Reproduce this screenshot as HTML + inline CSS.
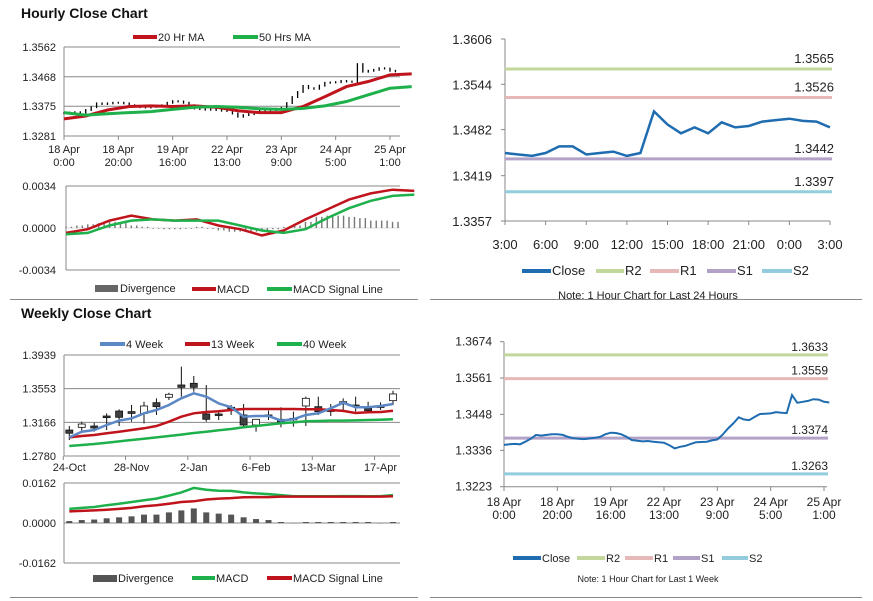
<!DOCTYPE html>
<html><head><meta charset="utf-8"><style>
html,body{margin:0;padding:0;background:#fff;}
svg{display:block;font-family:"Liberation Sans",Arial,sans-serif;}
</style></head><body>
<svg id="c" width="873" height="601" viewBox="0 0 873 601">
<text x="21" y="18" font-size="14" font-weight="bold" fill="#111">Hourly Close Chart</text>
<text x="21" y="318" font-size="14" font-weight="bold" fill="#111">Weekly Close Chart</text>
<line x1="10" y1="299.5" x2="418" y2="299.5" stroke="#888"/>
<line x1="430" y1="299.5" x2="862" y2="299.5" stroke="#888"/>
<line x1="10" y1="597.5" x2="418" y2="597.5" stroke="#888"/>
<line x1="430" y1="597.5" x2="862" y2="597.5" stroke="#888"/>
</svg>
<script>
// ---- data ----
const hourlyCloses=[1.3353,1.3355,1.3356,1.3355,1.3363,1.3372,1.3384,1.3382,1.3384,1.3386,
1.3386,1.3384,1.3378,1.3374,1.3372,1.3371,1.3373,1.3375,1.3378,1.3386,
1.3391,1.3390,1.3386,1.3378,1.3368,1.3366,1.3364,1.3365,1.3363,1.3361,
1.3360,1.3352,1.3342,1.3347,1.3350,1.3356,1.3361,1.3362,1.3363,1.3367,
1.3370,1.3385,1.3404,1.3420,1.3439,1.3432,1.3430,1.3440,1.3449,1.3450,
1.3451,1.3455,1.3453,1.3452,1.3508,1.3484,1.3487,1.3490,1.3495,1.3494,
1.3487,1.3485];
const hourlyMA20=[1.3335,1.3344,1.3363,1.3374,1.3376,1.3374,1.3376,1.3372,1.3361,1.3355,1.3355,1.3374,1.3405,1.3437,1.3453,1.3474,1.3477];
const hourlyMA50=[1.3355,1.3347,1.3351,1.3355,1.3358,1.3365,1.3372,1.3374,1.3372,1.3367,1.3365,1.3368,1.3376,1.3390,1.3411,1.3432,1.3437];
const hourlyMACD=[-0.0004,-0.0001,0.0006,0.0010,0.0007,0.0006,0.0007,0.0002,-0.0001,-0.0006,-0.0002,0.0007,0.0015,0.0023,0.0028,0.0031,0.0030];
const hourlySignal=[-0.0005,-0.0004,0.0002,0.0006,0.0007,0.0006,0.0006,0.0006,0.0002,-0.0002,-0.0004,-0.0001,0.0008,0.0016,0.0022,0.0026,0.0027];
const hourlyDiv=[0.0001,0.0002,0.0003,0.0004,0.0005,0.0004,0.0002,0.0001,0.0000,-0.0001,-0.0001,0.0000,0.0001,0.0000,-0.0002,-0.0003,-0.0003,-0.0003,-0.0002,-0.0001,0.0001,0.0002,0.0005,0.0009,0.0010,0.0010,0.0009,0.0008,0.0006,0.0006,0.0005];
const hourlyTickHours=[0,20,40,60,80,100,120];
const hourlyTickLabels=[["18 Apr","0:00"],["18 Apr","20:00"],["19 Apr","16:00"],["22 Apr","13:00"],["23 Apr","9:00"],["24 Apr","5:00"],["25 Apr","1:00"]];
const hourlyPriceTicks=[1.3562,1.3468,1.3375,1.3281];
const hourlyMacdTicks=[0.0034,0.0000,-0.0034];

const dayCloses=[1.3450,1.3448,1.3446,1.3450,1.3459,1.3459,1.3448,1.3450,1.3452,1.3446,1.3450,1.3507,1.3489,1.3477,1.3485,1.3477,1.3492,1.3485,1.3487,1.3493,1.3495,1.3497,1.3494,1.3493,1.3485];
const dayTickLabels=["3:00","6:00","9:00","12:00","15:00","18:00","21:00","0:00","3:00"];
const dayPriceTicks=[1.3606,1.3544,1.3482,1.3419,1.3357];
const dayLevels=[1.3565,1.3526,1.3442,1.3397];
const weekLevels=[1.3633,1.3559,1.3374,1.3263];
const weekHourTicks=[1.3674,1.3561,1.3448,1.3336,1.3223];

const wOpen=[1.3078,1.3109,1.3124,1.3239,1.3296,1.3289,1.3269,1.3392,1.3454,1.3595,1.3614,1.3262,1.3262,1.3339,1.3251,1.3136,1.3251,1.3201,1.3212,1.3354,1.3346,1.3308,1.3377,1.3365,1.3327,1.3354,1.3415];
const wClose=[1.3041,1.3147,1.3101,1.3220,1.3224,1.3269,1.3354,1.3346,1.3488,1.3568,1.3568,1.3201,1.3247,1.3327,1.3136,1.3201,1.3243,1.3170,1.3205,1.3442,1.3289,1.3296,1.3403,1.3354,1.3300,1.3346,1.3492];
const wHigh=[1.3124,1.3174,1.3162,1.3269,1.3316,1.3365,1.3403,1.3442,1.3506,1.3805,1.3698,1.3595,1.3308,1.3365,1.3377,1.3205,1.3300,1.3339,1.3289,1.3461,1.3461,1.3377,1.3442,1.3461,1.3403,1.3396,1.3529];
const wLow=[1.2964,1.3059,1.3059,1.3078,1.3124,1.3174,1.3154,1.3251,1.3423,1.3461,1.3518,1.3174,1.3193,1.3251,1.3124,1.3059,1.3193,1.3109,1.3116,1.3124,1.3251,1.3239,1.3308,1.3289,1.3289,1.3308,1.3365];
const w4=[1.2994,1.3059,1.3078,1.3136,1.3186,1.3212,1.3270,1.3308,1.3365,1.3442,1.3499,1.3461,1.3384,1.3339,1.3231,1.3239,1.3239,1.3186,1.3201,1.3251,1.3270,1.3327,1.3392,1.3339,1.3339,1.3354,1.3377];
const w13=[1.2994,1.3010,1.3021,1.3040,1.3059,1.3078,1.3098,1.3124,1.3174,1.3231,1.3270,1.3285,1.3293,1.3308,1.3319,1.3319,1.3319,1.3319,1.3319,1.3316,1.3316,1.3308,1.3297,1.3274,1.3281,1.3285,1.3300];
const w40=[1.2895,1.2906,1.2918,1.2933,1.2948,1.2964,1.2979,1.2994,1.3010,1.3025,1.3044,1.3059,1.3075,1.3090,1.3109,1.3124,1.3140,1.3155,1.3166,1.3178,1.3182,1.3186,1.3186,1.3189,1.3193,1.3197,1.3201];
const wMACD=[0.0057,0.0061,0.0065,0.0072,0.0078,0.0085,0.0092,0.0099,0.0111,0.0124,0.0142,0.0135,0.0131,0.0130,0.0124,0.0120,0.0117,0.0113,0.0108,0.0108,0.0108,0.0108,0.0109,0.0109,0.0108,0.0109,0.0113];
const wSignal=[0.0047,0.0049,0.0051,0.0054,0.0057,0.0061,0.0068,0.0072,0.0078,0.0085,0.0088,0.0095,0.0099,0.0101,0.0104,0.0105,0.0105,0.0107,0.0107,0.0107,0.0107,0.0107,0.0107,0.0107,0.0107,0.0107,0.0108];
const wDiv=[0.0008,0.0012,0.0014,0.0019,0.0023,0.0027,0.0034,0.0034,0.0043,0.0051,0.0059,0.0043,0.0038,0.0034,0.0023,0.0016,0.0012,0.0004,-0.0001,0.0004,0.0004,0.0004,0.0004,0.0004,0.0004,-0.0001,0.0004];
const weekTickIdx=[0,5,10,15,20,25];
const weekTickLabels=["24-Oct","28-Nov","2-Jan","6-Feb","13-Mar","17-Apr"];
const weekPriceTicks=[1.3939,1.3553,1.3166,1.2780];
const weekMacdTicks=[0.0162,0.0000,-0.0162];

// ---- helpers ----
const svg=document.getElementById('c');
const NS='http://www.w3.org/2000/svg';
function el(tag,a){const e=document.createElementNS(NS,tag);for(const k in a)e.setAttribute(k,a[k]);svg.appendChild(e);return e;}
function lin(d0,d1,r0,r1){return v=>r0+(v-d0)/(d1-d0)*(r1-r0);}
function pathOf(vals,fx,fy){return vals.map((v,i)=>(i?'L':'M')+fx(i).toFixed(1)+','+fy(v).toFixed(1)).join(' ');}
function txt(x,y,s,size,anchor,name){const t=el('text',{x:x,y:y,'font-size':size,'text-anchor':anchor||'start',fill:'#222'});t.textContent=s;


return t;}
function legendLine(x1,x2,y,color,label,size,name){const l=el('line',{x1:x1,y1:y,x2:x2,y2:y,stroke:color,'stroke-width':4});


txt(x2+1,y+4,label,size,'start',name);}

// ===== Panel 1: hourly price =====
const p1x=lin(0,120,64,390), p1y=lin(1.3562,1.3281,47,136);
hourlyPriceTicks.forEach((v,i)=>{const g=el('line',{x1:64,x2:400,y1:p1y(v),y2:p1y(v),stroke:'#888','stroke-width':1});


txt(56,p1y(v)+4,v.toFixed(4),11,'end','hourly-price-y-label');});
let ax=el('line',{x1:64,x2:64,y1:47,y2:136,stroke:'#888'});


hourlyTickHours.forEach((h,i)=>{const tk=el('line',{x1:p1x(h),x2:p1x(h),y1:136,y2:140,stroke:'#888'});


txt(p1x(h),153,hourlyTickLabels[i][0],11,'middle','hourly-x-label');
txt(p1x(h),166,hourlyTickLabels[i][1],11,'middle','hourly-x-label');});
hourlyCloses.forEach((c,i)=>{const o=i?hourlyCloses[i-1]:c;const hi=Math.max(o,c)+0.0003,lo=Math.min(o,c)-0.0003;
const b=el('line',{x1:p1x(i*2),x2:p1x(i*2),y1:p1y(hi),y2:p1y(lo),stroke:'#000','stroke-width':1.3});

});
const mx=i=>p1x(i*8);
let m20=el('path',{d:pathOf(hourlyMA20,mx,p1y),fill:'none',stroke:'#c0141c','stroke-width':3});


let m50=el('path',{d:pathOf(hourlyMA50,mx,p1y),fill:'none',stroke:'#1db04b','stroke-width':3});


legendLine(133,157,37,'#c0141c','20 Hr MA',11,'legend-ma20');
legendLine(233,258,37,'#1db04b','50 Hrs MA',11,'legend-ma50');

// ===== Panel 2: hourly MACD =====
const p2x=lin(0,122,66,398), p2y=lin(0.0034,-0.0034,186,270);
hourlyMacdTicks.forEach(v=>{const g=el('line',{x1:66,x2:400,y1:p2y(v),y2:p2y(v),stroke:v===0?'#ddd':'#888'});


txt(56,p2y(v)+4,v.toFixed(4),11,'end','hourly-macd-y-label');});
ax=el('line',{x1:66,x2:66,y1:186,y2:270,stroke:'#888'});


hourlyDiv.forEach((v,i)=>{for(let k=0;k<2;k++){const x=p2x(i*4+k*2);
const b=el('rect',{x:x-0.7,y:Math.min(p2y(v),p2y(0)),width:1.4,height:Math.max(0.8,Math.abs(p2y(v)-p2y(0))),fill:'#777'});

}});
const mx2=i=>p2x(i*8);
let hm=el('path',{d:pathOf(hourlyMACD,mx2,p2y),fill:'none',stroke:'#c0141c','stroke-width':2.5});


let hs=el('path',{d:pathOf(hourlySignal,mx2,p2y),fill:'none',stroke:'#1db04b','stroke-width':2.5});


let sw=el('rect',{x:95,y:285,width:23,height:7,fill:'#666'});


txt(120,292,'Divergence',11,'start','legend-divergence');
legendLine(192,216,289,'#c0141c','MACD',11,'legend-macd');
legendLine(267,292,289,'#1db04b','MACD Signal Line',11,'legend-signal');

// ===== Panel 3: last 24 hours =====
const p3x=lin(0,24,505,830), p3y=lin(1.3606,1.3357,39,221);
dayPriceTicks.forEach(v=>{txt(492,p3y(v)+5,v.toFixed(4),13,'end','day-y-label');
const t=el('line',{x1:501,x2:505,y1:p3y(v),y2:p3y(v),stroke:'#888'});

});
ax=el('path',{d:'M505,39 L505,221 L830,221',fill:'none',stroke:'#888'});


dayTickLabels.forEach((s,k)=>{const x=p3x(k*3);const t=el('line',{x1:x,x2:x,y1:221,y2:225,stroke:'#888'});


txt(x,249,s,13,'middle','day-x-label');});
const levelColors=['#c3d69b','#e6b9b8','#b3a2c7','#93cddd'];
dayLevels.forEach((v,k)=>{const l=el('line',{x1:505,x2:832,y1:p3y(v),y2:p3y(v),stroke:levelColors[k],'stroke-width':3});


txt(834,p3y(v)-6,v.toFixed(4),13,'end','day-level-label');});
let dc=el('path',{d:pathOf(dayCloses,p3x,p3y),fill:'none',stroke:'#1f6cb0','stroke-width':2.5});


legendLine(522,551,271,'#1f6cb0','Close',13,'legend-day-close');
legendLine(596,624,271,'#c3d69b','R2',13,'legend-day-r2');
legendLine(650,679,271,'#e6b9b8','R1',13,'legend-day-r1');
legendLine(707,736,271,'#b3a2c7','S1',13,'legend-day-s1');
legendLine(762,792,271,'#93cddd','S2',13,'legend-day-s2');
txt(648,299,'Note: 1 Hour Chart for Last 24 Hours',11,'middle','day-note');

// ===== Panel 4: weekly price =====
const p4x=lin(0,26,69.3,393), p4y=lin(1.3939,1.2780,355,456);
weekPriceTicks.forEach(v=>{const g=el('line',{x1:64,x2:400,y1:p4y(v),y2:p4y(v),stroke:'#888'});


txt(56,p4y(v)+4,v.toFixed(4),11,'end','weekly-price-y-label');});
ax=el('line',{x1:64,x2:64,y1:355,y2:456,stroke:'#888'});


weekTickIdx.forEach((idx,k)=>{const x=p4x(idx);const t=el('line',{x1:x-6,x2:x-6,y1:456,y2:460,stroke:'#888'});


txt(x,471,weekTickLabels[k],11,'middle','weekly-x-label');});
wOpen.forEach((o,i)=>{const c=wClose[i],x=p4x(i);
const w=el('line',{x1:x,x2:x,y1:p4y(wHigh[i]),y2:p4y(wLow[i]),stroke:'#111','stroke-width':1});


const top=p4y(Math.max(o,c)),bot=p4y(Math.min(o,c));
const b=el('rect',{x:x-3.5,y:top,width:7,height:Math.max(1.5,bot-top),fill:c>=o?'#fff':'#404040',stroke:'#111','stroke-width':0.8});

});
let l40=el('path',{d:pathOf(w40,p4x,p4y),fill:'none',stroke:'#1db04b','stroke-width':2.5});


let l13=el('path',{d:pathOf(w13,p4x,p4y),fill:'none',stroke:'#c0141c','stroke-width':2.5});


let l4=el('path',{d:pathOf(w4,p4x,p4y),fill:'none',stroke:'#5b87c4','stroke-width':2.5});


legendLine(100,125,344,'#5b87c4','4 Week',11,'legend-4-week');
legendLine(185,210,344,'#c0141c','13 Week',11,'legend-13-week');
legendLine(277,302,344,'#1db04b','40 Week',11,'legend-40-week');

// ===== Panel 5: weekly MACD =====
const p5y=lin(0.0162,-0.0162,483,563);
weekMacdTicks.forEach(v=>{const g=el('line',{x1:64,x2:400,y1:p5y(v),y2:p5y(v),stroke:'#888'});


txt(56,p5y(v)+4,v.toFixed(4),11,'end','weekly-macd-y-label');});
ax=el('line',{x1:64,x2:64,y1:483,y2:563,stroke:'#888'});


wDiv.forEach((v,i)=>{const x=p4x(i);const b=el('rect',{x:x-3,y:Math.min(p5y(v),p5y(0)),width:6,height:Math.abs(p5y(v)-p5y(0)),fill:'#555'});

});
let wm=el('path',{d:pathOf(wMACD,p4x,p5y),fill:'none',stroke:'#1db04b','stroke-width':2.5});


let ws=el('path',{d:pathOf(wSignal,p4x,p5y),fill:'none',stroke:'#c0141c','stroke-width':2.5});


sw=el('rect',{x:93,y:575,width:24,height:7,fill:'#555'});


txt(118,582,'Divergence',11,'start','legend-weekly-divergence');
legendLine(192,215,578,'#1db04b','MACD',11,'legend-weekly-macd');
legendLine(267,292,578,'#c0141c','MACD Signal Line',11,'legend-weekly-signal');

// ===== Panel 6: last week hourly =====
const p6x=lin(0,120,504,824), p6y=lin(1.3674,1.3223,341.7,486.7);
weekHourTicks.forEach(v=>{txt(492,p6y(v)+4,v.toFixed(4),12,'end','week-hourly-y-label');
const t=el('line',{x1:500,x2:504,y1:p6y(v),y2:p6y(v),stroke:'#888'});

});
ax=el('path',{d:'M504,341.7 L504,486.7 L827,486.7',fill:'none',stroke:'#888'});


hourlyTickHours.forEach((h,i)=>{const x=p6x(h);const t=el('line',{x1:x,x2:x,y1:486.7,y2:491,stroke:'#888'});


txt(x,506,hourlyTickLabels[i][0],12,'middle','week-hourly-x-label');
txt(x,519,hourlyTickLabels[i][1],12,'middle','week-hourly-x-label');});
weekLevels.forEach((v,k)=>{const l=el('line',{x1:504,x2:828,y1:p6y(v),y2:p6y(v),stroke:levelColors[k],'stroke-width':3});


txt(828,p6y(v)-4,v.toFixed(4),12,'end','week-level-label');});
let wc=el('path',{d:pathOf(hourlyCloses,i=>p6x(i*2),p6y),fill:'none',stroke:'#1f6cb0','stroke-width':2});


legendLine(513,541,558,'#1f6cb0','Close',11,'legend-week-close');
legendLine(577,605,558,'#c3d69b','R2',11,'legend-week-r2');
legendLine(625,653,558,'#e6b9b8','R1',11,'legend-week-r1');
legendLine(673,700,558,'#b3a2c7','S1',11,'legend-week-s1');
legendLine(722,748,558,'#93cddd','S2',11,'legend-week-s2');
txt(648,582,'Note: 1 Hour Chart for  Last 1 Week',9,'middle','week-note');
</script>
</body></html>
